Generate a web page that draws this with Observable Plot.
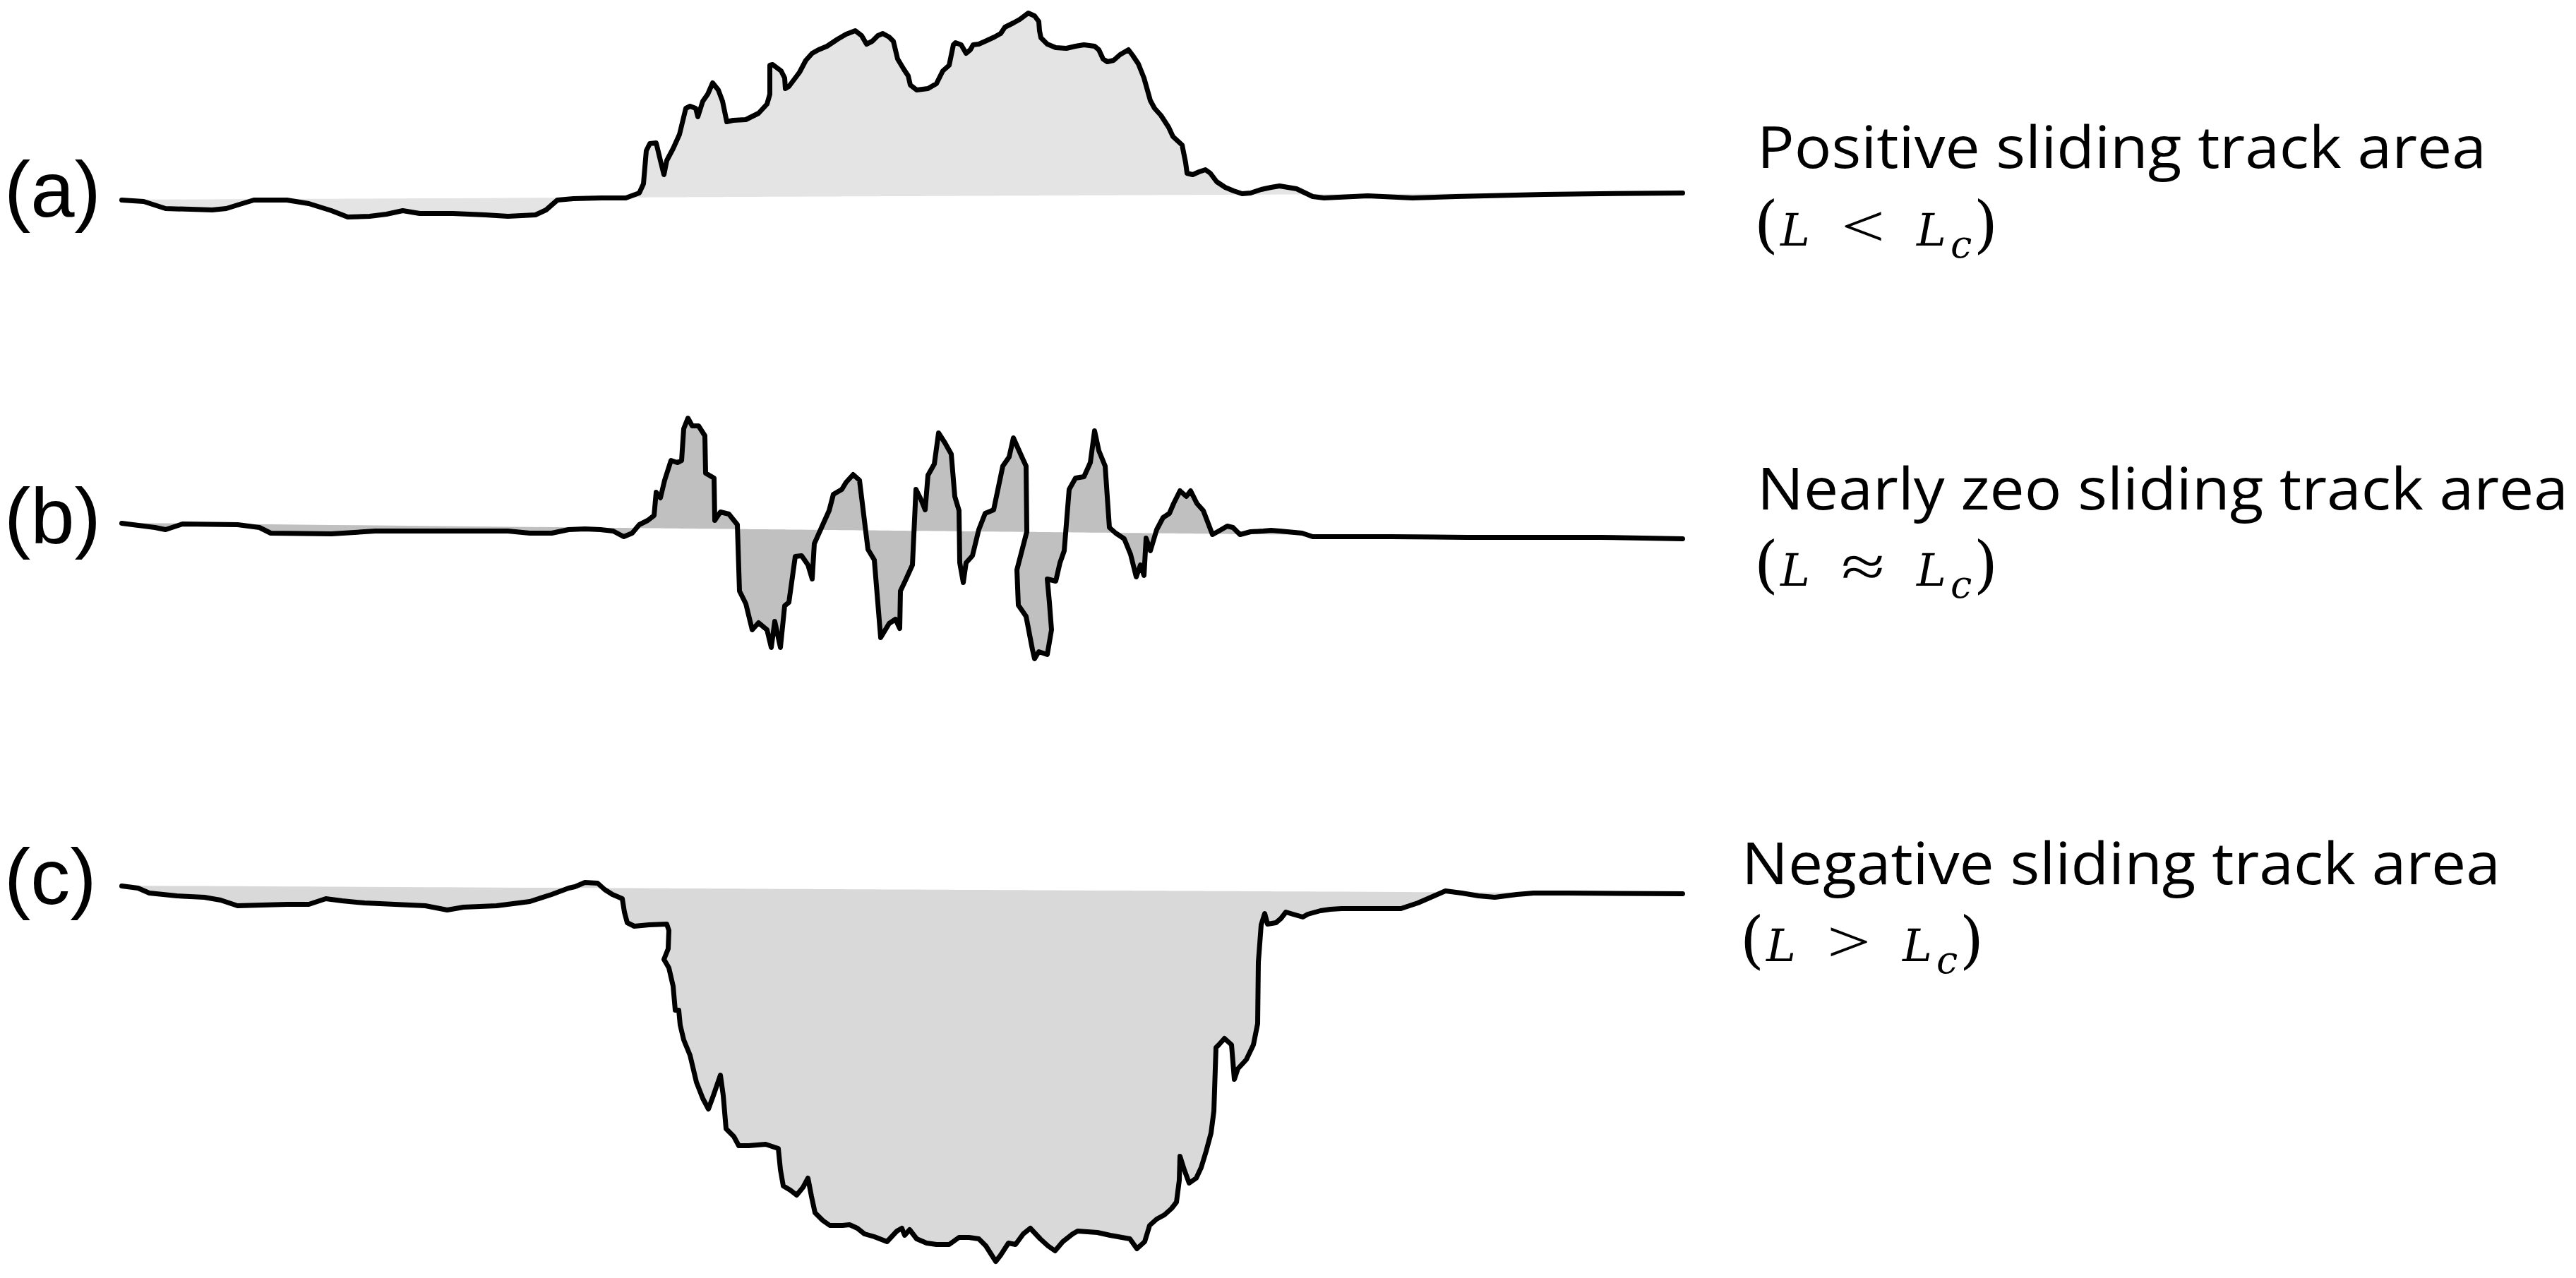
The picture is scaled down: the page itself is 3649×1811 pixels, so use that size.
<!DOCTYPE html>
<html>
<head>
<meta charset="utf-8">
<script src="https://cdn.jsdelivr.net/npm/d3@7"></script>
<script src="https://cdn.jsdelivr.net/npm/@observablehq/plot@0.6"></script>
<style>
  html, body { margin: 0; padding: 0; background: #fff; }
  #chart { position: relative; width: 3649px; height: 1811px; overflow: hidden; background: #fff; }
  #chart > svg { position: absolute; left: 0; }
</style>
</head>
<body>
<div id="chart"></div>
<script>
// ---- Data: track position (x) and surface height relative to the track start (h) ----
const trackA = [
  [0,0],[31,-2],[62,-12],[128,-14],[148,-12],[164,-7],[187,0],[234,0],[265,-5],[297,-15],
  [320,-24],[351,-23],[375,-20],[398,-15],[422,-19],[469,-19],[515,-21],[547,-23],[586,-21],[601,-14],
  [617,0],[640,2],[679,3],[714,3],[733,10],[739,23],[743,70],[748,80],[757,81],[763,56],
  [768,36],[772,56],[781,73],[790,93],[799,130],[805,133],[813,130],[816,118],[823,140],[830,150],
  [837,166],[845,156],[851,140],[857,111],[866,113],[884,114],[902,123],[914,136],[918,150],[918,173],
  [918,191],[922,192],[934,183],[939,173],[940,158],[945,161],[960,181],[969,198],[978,208],[987,213],
  [999,218],[1014,228],[1026,235],[1039,240],[1048,233],[1055,221],[1063,225],[1071,233],[1078,236],[1087,231],
  [1093,225],[1099,200],[1108,185],[1114,176],[1117,163],[1126,156],[1142,158],[1154,165],[1163,183],[1172,191],
  [1178,220],[1181,223],[1189,220],[1196,208],[1202,213],[1206,220],[1214,221],[1223,225],[1236,231],[1245,236],
  [1251,245],[1263,251],[1272,256],[1284,265],[1293,261],[1299,253],[1300,240],[1302,230],[1311,221],[1323,216],
  [1338,215],[1351,218],[1363,220],[1378,218],[1384,213],[1390,200],[1396,196],[1405,198],[1414,206],[1426,213],
  [1432,205],[1440,193],[1448,173],[1457,141],[1463,130],[1472,120],[1483,103],[1489,90],[1502,78],[1507,53],
  [1509,38],[1517,36],[1526,40],[1535,43],[1542,38],[1551,26],[1563,18],[1575,13],[1587,9],[1599,10],
  [1614,15],[1628,18],[1640,20],[1664,16],[1687,5],[1703,3],[1765,6],[1828,3],[1890,5],[2015,8],
  [2094,9],[2211,10]
];

const trackB = [
  [0,0],[47,-6],[62,-9],[86,-1],[164,-2],[195,-6],[211,-14],[297,-15],[359,-11],[453,-11],
  [547,-11],[578,-14],[609,-14],[633,-9],[656,-8],[678,-9],[696,-11],[711,-19],[723,-14],[733,-2],
  [745,4],[754,11],[757,44],[763,36],[769,61],[778,89],[787,86],[793,89],[796,134],[802,149],
  [808,138],[817,138],[826,124],[827,71],[839,64],[840,4],[848,16],[860,13],[872,-2],[875,-96],
  [884,-114],[893,-151],[902,-141],[914,-151],[920,-176],[925,-139],[933,-176],[939,-117],[945,-112],[954,-47],
  [963,-46],[972,-59],[978,-79],[981,-29],[993,-2],[1002,18],[1008,41],[1020,48],[1026,58],[1036,69],
  [1045,61],[1057,-37],[1066,-52],[1075,-162],[1087,-142],[1096,-136],[1102,-149],[1103,-96],[1111,-79],[1120,-59],
  [1125,48],[1132,34],[1138,19],[1142,68],[1151,84],[1157,128],[1166,114],[1175,98],[1180,38],[1186,18],
  [1187,-56],[1192,-84],[1196,-56],[1205,-46],[1214,-9],[1223,14],[1235,19],[1248,81],[1257,94],[1263,121],
  [1275,94],[1281,81],[1282,-12],[1268,-66],[1270,-116],[1281,-132],[1290,-179],[1293,-192],[1299,-182],[1311,-186],
  [1317,-151],[1314,-112],[1311,-79],[1323,-82],[1329,-56],[1335,-39],[1342,48],[1351,64],[1363,66],[1372,86],
  [1378,131],[1384,103],[1393,81],[1399,-6],[1408,-14],[1420,-22],[1429,-44],[1437,-76],[1443,-59],[1448,-74],
  [1451,-21],[1457,-39],[1466,-9],[1475,8],[1484,14],[1490,28],[1499,46],[1508,38],[1514,46],[1523,28],
  [1532,18],[1545,-16],[1554,-11],[1566,-4],[1574,-6],[1584,-16],[1599,-12],[1617,-11],[1628,-10],[1640,-11],
  [1672,-14],[1687,-19],[1797,-19],[1906,-20],[2094,-20],[2211,-22]
];

const trackC = [
  [0,0],[23,-3],[39,-10],[78,-14],[117,-16],[140,-20],[164,-28],[234,-26],[265,-26],[289,-18],
  [312,-21],[344,-24],[430,-28],[461,-34],[484,-30],[531,-28],[578,-22],[609,-12],[633,-3],[642,-1],
  [656,5],[674,4],[684,-5],[695,-12],[709,-18],[712,-37],[716,-52],[726,-57],[747,-55],[772,-54],
  [775,-63],[774,-89],[768,-104],[775,-116],[781,-142],[784,-176],[789,-176],[791,-197],[796,-218],[805,-240],
  [814,-278],[823,-301],[831,-316],[838,-297],[848,-268],[852,-297],[856,-344],[867,-355],[874,-368],[888,-368],
  [912,-366],[930,-372],[933,-402],[937,-425],[947,-431],[956,-438],[965,-427],[972,-414],[977,-440],[982,-463],
  [993,-474],[1003,-481],[1021,-481],[1031,-480],[1042,-485],[1052,-493],[1066,-497],[1084,-504],[1098,-489],[1105,-485],
  [1109,-495],[1116,-487],[1126,-500],[1140,-506],[1154,-508],[1172,-508],[1186,-498],[1200,-498],[1214,-500],[1224,-510],
  [1231,-521],[1238,-532],[1245,-523],[1256,-506],[1266,-508],[1277,-493],[1287,-485],[1301,-500],[1312,-510],[1322,-517],
  [1333,-504],[1347,-493],[1354,-489],[1382,-491],[1400,-495],[1428,-500],[1438,-514],[1449,-504],[1456,-481],[1466,-472],
  [1477,-466],[1487,-457],[1494,-448],[1498,-417],[1499,-383],[1505,-402],[1512,-421],[1522,-414],[1529,-399],[1536,-376],
  [1543,-350],[1547,-319],[1550,-229],[1554,-225],[1562,-216],[1572,-225],[1576,-274],[1581,-259],[1593,-246],[1603,-225],
  [1609,-195],[1610,-108],[1614,-55],[1619,-39],[1623,-54],[1635,-52],[1642,-46],[1649,-37],[1659,-40],[1673,-44],
  [1680,-40],[1698,-35],[1712,-33],[1728,-32],[1812,-32],[1836,-24],[1859,-14],[1875,-7],[1898,-10],[1922,-14],
  [1945,-16],[1976,-12],[2000,-10],[2047,-10],[2211,-11]
];

const panelLabels = ["(a)", "(b)", "(c)"];
const captions = ["Positive sliding track area", "Nearly zeo sliding track area", "Negative sliding track area"];
const relations = ["<", "\u2248", ">"];

// ---- Layout / style ----
const W = 3649, H = 1811;
const trackLeft = 172, trackRight = 2383;
const panels = [
  {track: trackA, fill: "#e4e4e4", top: 8,    domain: [-35, 275],
   labelBase: 307, capX: 2489, capBase: 238, capLen: 1033, mathX: 2502, mathBase: 348},
  {track: trackB, fill: "#c0c0c0", top: 581,  domain: [-200, 160],
   labelBase: 770, capX: 2489, capBase: 722, capLen: 1149, mathX: 2502, mathBase: 830},
  {track: trackC, fill: "#d9d9d9", top: 1235, domain: [-545, 20],
   labelBase: 1281, capX: 2467, capBase: 1253, capLen: 1075, mathX: 2482, mathBase: 1362}
];
// horizontal offsets of the pieces of "(L ? Lc)" relative to the opening parenthesis
const mathOffsets = [0, 41, 137, 234, 276, 311];

const chart = document.getElementById("chart");

panels.forEach(p => {
  const xs = p.track.map(d => d[0]);
  const xEnd = xs[xs.length - 1];
  const hEnd = p.track[p.track.length - 1][1];
  // reference line of the sliding track: chord joining the two ends of the profile
  const data = p.track.map(([x, h]) => ({x, h, base: hEnd * x / xEnd}));
  const svg = Plot.plot({
    width: W,
    height: p.domain[1] - p.domain[0],
    marginLeft: trackLeft,
    marginRight: W - trackRight,
    marginTop: 0,
    marginBottom: 0,
    x: {domain: [0, xEnd], axis: null},
    y: {domain: p.domain, axis: null},
    style: {overflow: "visible", background: "transparent"},
    marks: [
      Plot.areaY(data, {x: "x", y1: "base", y2: "h", fill: p.fill}),
      Plot.line(data, {x: "x", y: "h", stroke: "#000", strokeWidth: 7,
                       strokeLinejoin: "round", strokeLinecap: "round"})
    ]
  });
  svg.style.position = "absolute";
  svg.style.top = p.top + "px";
  svg.style.left = "0px";
  chart.appendChild(svg);
});

// ---- Text overlay ----
const overlay = d3.create("svg")
  .attr("width", W).attr("height", H)
  .style("position", "absolute").style("top", "0px").style("left", "0px")
  .style("pointer-events", "none");

panels.forEach((p, i) => {
  overlay.append("text")
    .attr("x", 6).attr("y", p.labelBase)
    .attr("font-family", "'Liberation Sans', Arial, sans-serif")
    .attr("font-size", 112).attr("fill", "#000")
    .text(panelLabels[i]);

  overlay.append("text")
    .attr("x", p.capX).attr("y", p.capBase)
    .attr("font-family", "'Open Sans', 'Noto Sans', sans-serif")
    .attr("font-size", 82).attr("fill", "#000")
    .attr("textLength", p.capLen).attr("lengthAdjust", "spacingAndGlyphs")
    .text(captions[i]);

  const serif = "'DejaVu Serif', 'Liberation Serif', serif";
  const mb = p.mathBase;
  const mx = mathOffsets.map(o => p.mathX + o);
  const add = (txt, x, y, size, italic, len, family) => {
    const t = overlay.append("text")
      .attr("x", x).attr("y", y).attr("text-anchor", "middle")
      .attr("font-family", family || serif).attr("font-size", size)
      .attr("font-style", italic ? "italic" : "normal")
      .attr("fill", "#000").text(txt);
    if (len) t.attr("textLength", len).attr("lengthAdjust", "spacingAndGlyphs");
  };
  add("(", mx[0], mb, 88, false);
  add("L", mx[1], mb, 63, true);
  add(relations[i], mx[2], mb + 1, 84, false, 62, "'Liberation Serif', serif");
  add("L", mx[3], mb, 63, true);
  add("c", mx[4], mb + 17, 54, true);
  add(")", mx[5], mb, 88, false);
});

chart.appendChild(overlay.node());
</script>
</body>
</html>
